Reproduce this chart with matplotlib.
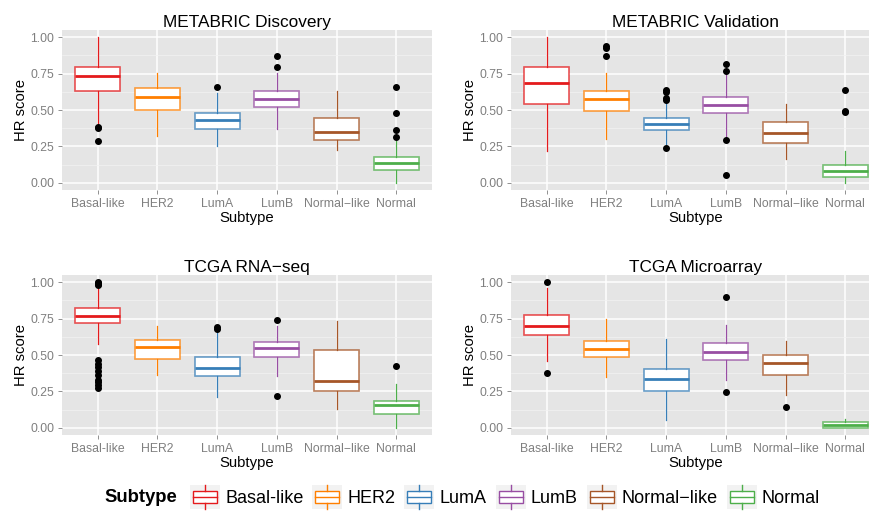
import matplotlib
matplotlib.use("Agg")
import matplotlib.pyplot as plt
from matplotlib.patches import Patch, Rectangle
from matplotlib.lines import Line2D
from matplotlib.legend_handler import HandlerBase
from matplotlib.colors import to_rgba

plt.rcParams['font.family'] = ['Liberation Sans', 'DejaVu Sans']

subtypes = ['Basal-like', 'HER2', 'LumA', 'LumB', 'Normal\u2212like', 'Normal']
colors = ['#E41A1C', '#FF7F00', '#377EB8', '#984EA3', '#A65628', '#4DAF4A']

# per subtype: [whisker low, q1, median, q3, whisker high]
disc_stats = [[0.395, 0.629, 0.733, 0.794, 1.000],
              [0.318, 0.503, 0.592, 0.650, 0.754],
              [0.255, 0.371, 0.432, 0.480, 0.615],
              [0.369, 0.522, 0.578, 0.629, 0.752],
              [0.225, 0.297, 0.346, 0.443, 0.633],
              [0.000, 0.090, 0.139, 0.179, 0.288]]
disc_fliers = [[0.383, 0.376, 0.290], [], [0.657], [0.868, 0.794], [],
               [0.657, 0.476, 0.362, 0.313]]

valid_stats = [[0.220, 0.538, 0.689, 0.796, 1.000],
               [0.304, 0.490, 0.573, 0.631, 0.754],
               [0.267, 0.362, 0.406, 0.443, 0.560],
               [0.310, 0.476, 0.531, 0.589, 0.763],
               [0.162, 0.271, 0.341, 0.420, 0.543],
               [0.000, 0.039, 0.084, 0.121, 0.218]]
valid_fliers = [[], [0.937, 0.928, 0.872], [0.638, 0.626, 0.582, 0.568, 0.239],
                [0.817, 0.768, 0.295, 0.053], [], [0.640, 0.494, 0.487]]

rnaseq_stats = [[0.575, 0.722, 0.770, 0.826, 0.974],
                [0.364, 0.471, 0.552, 0.606, 0.700],
                [0.209, 0.353, 0.411, 0.483, 0.672],
                [0.355, 0.487, 0.548, 0.587, 0.700],
                [0.128, 0.253, 0.318, 0.531, 0.735],
                [0.000, 0.093, 0.153, 0.183, 0.302]]
rnaseq_fliers = [[1.000, 0.995, 0.990, 0.982, 0.464, 0.441, 0.418, 0.387,
                  0.364, 0.329, 0.311, 0.297, 0.271],
                 [], [0.691, 0.680], [0.742, 0.220], [], [0.422]]

micro_stats = [[0.459, 0.638, 0.696, 0.777, 0.963],
               [0.348, 0.483, 0.541, 0.599, 0.747],
               [0.053, 0.251, 0.332, 0.404, 0.610],
               [0.325, 0.464, 0.524, 0.585, 0.708],
               [0.225, 0.364, 0.443, 0.497, 0.596],
               [0.000, 0.000, 0.022, 0.042, 0.060]]
micro_fliers = [[1.000, 0.374], [], [], [0.900, 0.246], [0.142], []]

titles = ['METABRIC Discovery', 'METABRIC Validation', 'TCGA RNA\u2212seq', 'TCGA Microarray']
yticks = [0, 0.25, 0.5, 0.75, 1.0]

W, H = 870, 511
fig = plt.figure(figsize=(W / 100, H / 100), dpi=100)

# panel boxes in pixels: left, top
panels = [(62, 30), (511, 30), (62, 275), (511, 275)]
pw, ph = 370, 160

all_stats = [disc_stats, valid_stats, rnaseq_stats, micro_stats]
all_fliers = [disc_fliers, valid_fliers, rnaseq_fliers, micro_fliers]

for (px, py), title, st, fl in zip(panels, titles, all_stats, all_fliers):
    ax = fig.add_axes([px / W, 1 - (py + ph) / H, pw / W, ph / H])
    ax.set_facecolor('#E5E5E5')
    for s in ax.spines.values():
        s.set_visible(False)
    bstats = []
    for name, v, f in zip(subtypes, st, fl):
        bstats.append(dict(label=name, whislo=v[0], q1=v[1], med=v[2],
                           q3=v[3], whishi=v[4], fliers=f))
    res = ax.bxp(bstats, positions=range(6), widths=0.75, patch_artist=True,
                 showcaps=False,
                 flierprops=dict(marker='o', markerfacecolor='black',
                                 markeredgecolor='black', markersize=4.0))
    for i, c in enumerate(colors):
        b = res['boxes'][i]
        b.set_facecolor('white')
        b.set_edgecolor(to_rgba(c, 0.75))
        b.set_linewidth(1.2)
        res['medians'][i].set_color(c)
        res['medians'][i].set_linewidth(2.0)
        for w in res['whiskers'][2 * i:2 * i + 2]:
            w.set_color(c)
            w.set_linewidth(0.9)
    ax.set_xlim(-0.6, 5.6)
    ax.set_ylim(-0.05, 1.05)
    ax.set_xticks(range(6))
    ax.set_xticklabels(subtypes)
    ax.set_yticks(yticks)
    ax.set_yticklabels(['%.2f' % t for t in yticks])
    ax.set_yticks([0.125, 0.375, 0.625, 0.875], minor=True)
    ax.set_axisbelow(True)
    ax.grid(which='major', color='white', linewidth=1.1)
    ax.grid(which='minor', axis='y', color='#F2F2F2', linewidth=0.5)
    ax.tick_params(which='major', length=3, width=0.6, color='#7F7F7F',
                   labelcolor='#7F7F7F', labelsize=8.8, pad=2.5)
    ax.tick_params(which='minor', length=0)
    ax.set_title(title, fontsize=12.4, pad=1.5)
    ax.set_xlabel('Subtype', fontsize=10.7, labelpad=1)
    ax.set_ylabel('HR score', fontsize=10.7, labelpad=2)


class BoxKey(HandlerBase):
    def create_artists(self, legend, orig_handle, xdescent, ydescent,
                       width, height, fontsize, trans):
        c = orig_handle.get_edgecolor()
        x0, y0 = -xdescent, -ydescent
        xm = x0 + width / 2
        bg = Rectangle((x0, y0), width, height, facecolor='#F2F2F2',
                       edgecolor='none', transform=trans)
        box = Rectangle((x0 + 0.1 * width, y0 + 0.25 * height), 0.8 * width,
                        0.5 * height, facecolor='white', edgecolor=c,
                        linewidth=1.0, transform=trans)
        med = Line2D([x0 + 0.1 * width, x0 + 0.9 * width],
                     [y0 + 0.5 * height] * 2, color=c, linewidth=1.0,
                     transform=trans)
        w1 = Line2D([xm, xm], [y0, y0 + 0.25 * height], color=c,
                    linewidth=1.0, transform=trans)
        w2 = Line2D([xm, xm], [y0 + 0.75 * height, y0 + height], color=c,
                    linewidth=1.0, transform=trans)
        return [bg, box, med, w1, w2]


handles = [Patch(edgecolor=c, facecolor='white') for c in colors]
fig.text(104 / W, 1 - 497 / H, 'Subtype', fontsize=13.3, fontweight='bold',
         va='center', ha='left')
fig.legend(handles, subtypes, loc='center left',
           bbox_to_anchor=(190 / W, 1 - 497 / H), ncol=6, frameon=False,
           borderpad=0, borderaxespad=0, handlelength=1.66, handleheight=1.66,
           handletextpad=0.28, columnspacing=0.5, fontsize=13,
           handler_map={Patch: BoxKey()})

fig.savefig('out.png', dpi=100)
